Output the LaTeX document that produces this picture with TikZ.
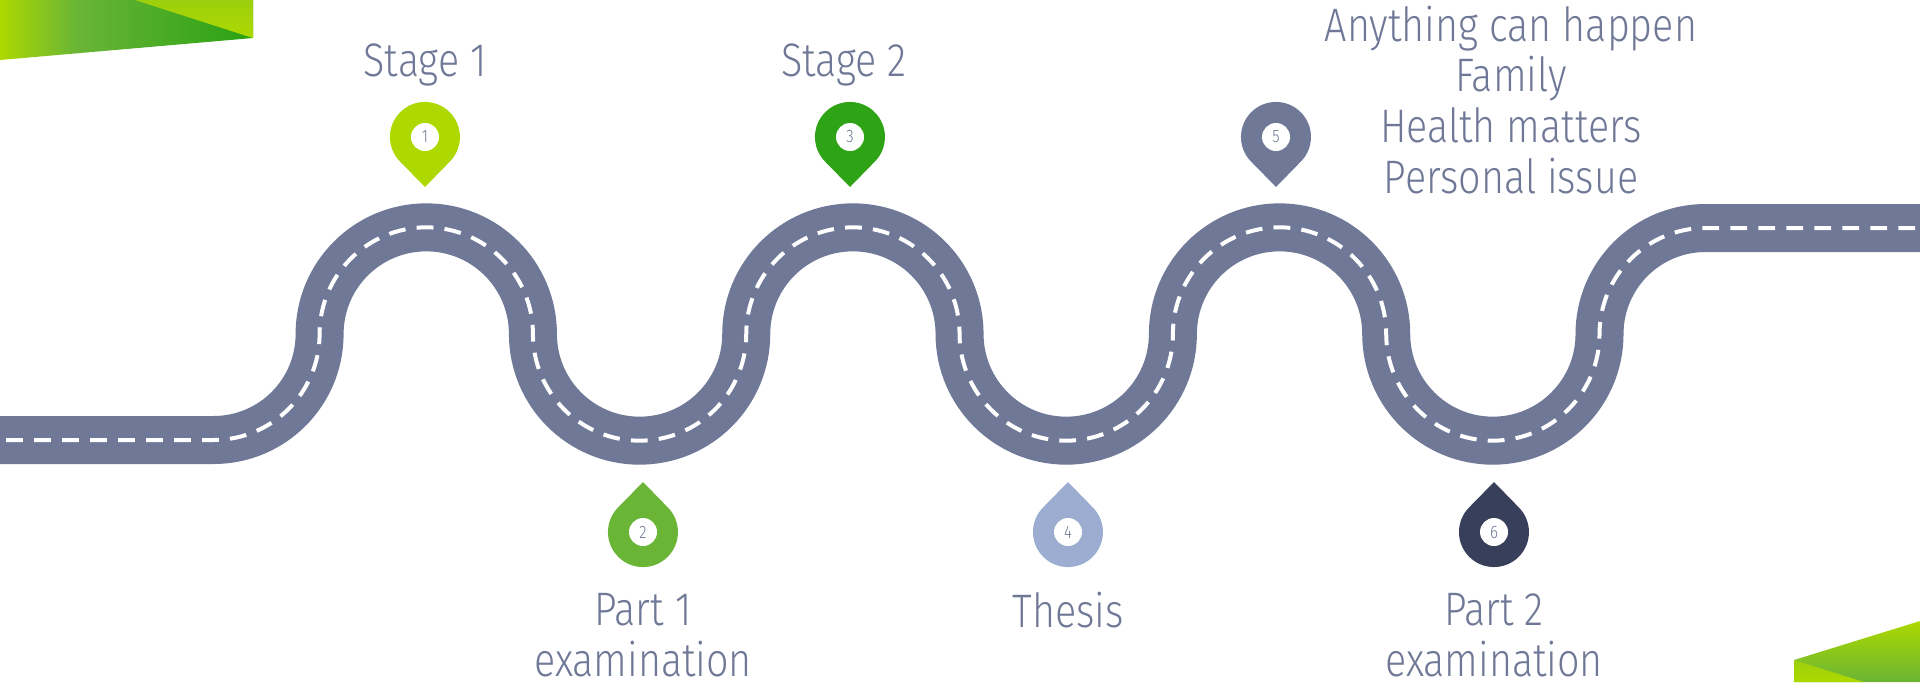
\documentclass[tikz,border=0pt]{standalone}
\usepackage{fontspec}
\setmainfont{Fira Sans Light}[FakeStretch=0.84]
\usetikzlibrary{positioning}

\definecolor{roadgrey}{RGB}{111,120,150}
\definecolor{limegreen}{RGB}{173,216,0}
\definecolor{leafgreen}{RGB}{106,181,54}
\definecolor{deepgreen}{RGB}{47,163,22}
\definecolor{paleblue}{RGB}{157,173,210}
\definecolor{darkblue}{RGB}{56,63,90}

\pgfdeclarehorizontalshading{bandleft}{100bp}{color(0bp)=(limegreen); color(25bp)=(limegreen); color(40bp)=(leafgreen); color(72bp)=(deepgreen); color(75bp)=(deepgreen); color(100bp)=(deepgreen)}
\pgfdeclareverticalshading{bandtop}{100bp}{color(0bp)=(limegreen); color(25bp)=(limegreen); color(75bp)=(limegreen!75!leafgreen); color(100bp)=(limegreen!75!leafgreen)}
\pgfdeclareverticalshading{bandright}{100bp}{color(0bp)=(leafgreen); color(25bp)=(leafgreen); color(75bp)=(limegreen); color(100bp)=(limegreen)}

\tikzset{
    road/.style={draw=roadgrey,line width=24pt},
    roadmark/.style={draw=white,line width=2pt,dash pattern=on 8.4pt off 5.6pt,dash phase=11pt},
    numdot/.style={circle,fill=white,text=roadgrey,minimum size=14pt,inner sep=0pt,font=\fontsize{9}{9}\selectfont},
    stagetext/.style={text=roadgrey,align=center,anchor=base,inner sep=0pt,font=\fontsize{23.5}{25.3}\selectfont},
    pin down/.pic={\fill[pic actions] (0,50) -- (24.7,24.7) arc[start angle=-45,end angle=225,radius=17.5pt] -- cycle;},
    pin up/.pic={\fill[pic actions] (0,-50) -- (24.7,-24.7) arc[start angle=45,end angle=-225,radius=17.5pt] -- cycle;}
}

\begin{document}
\begin{tikzpicture}[x=0.5pt,y=-0.5pt]
        \useasboundingbox (0,0) rectangle (1920,682);
        % corners
        \shade[shading=bandleft] (0,0) -- (253,0) -- (253,38) -- (0,60) -- cycle;
        \shade[shading=bandtop] (135,0) -- (253,0) -- (253,38) -- cycle;
        \shade[shading=bandright] (1794,660) -- (1920,621) -- (1920,682) -- (1794,682) -- cycle;
        \shade[shading=bandtop] (1794,660) -- (1864,682) -- (1794,682) -- cycle;
        % road
        \def\roadpath{(0,440) -- (213.6,440) arc[start angle=-90,end angle=0,radius=53pt]
            arc[start angle=180,end angle=0,radius=53.33pt]
            arc[start angle=180,end angle=360,radius=53.33pt]
            arc[start angle=180,end angle=0,radius=53.33pt]
            arc[start angle=180,end angle=360,radius=53.33pt]
            arc[start angle=180,end angle=0,radius=53.33pt]
            arc[start angle=180,end angle=360,radius=53.33pt]
            arc[start angle=180,end angle=90,radius=53pt] -- (1920,228)}
        \path[road] \roadpath;
        \path[roadmark] \roadpath;
        % pins
        \pic[fill=limegreen] at (425,137) {pin down};
        \pic[fill=leafgreen] at (643,532) {pin up};
        \pic[fill=deepgreen] at (850,137) {pin down};
        \pic[fill=paleblue] at (1068,532) {pin up};
        \pic[fill=roadgrey] at (1276,137) {pin down};
        \pic[fill=darkblue] at (1494,532) {pin up};
        \node[numdot] (n_1) at (425,137) {1};
        \node[numdot] (n_2) at (643,532) {2};
        \node[numdot] (n_3) at (850,137) {3};
        \node[numdot] (n_4) at (1068,532) {4};
        \node[numdot] (n_5) at (1276,137) {5};
        \node[numdot] (n_6) at (1494,532) {6};
        % labels
        \node[stagetext] (s_1) at (425,76) {Stage 1};
        \node[stagetext] (s_2) at (844,76) {Stage 2};
        \node[stagetext] (e_1) at (643,676) {Part 1\\examination};
        \node[stagetext] (t_1) at (1068,627) {Thesis};
        \node[stagetext] (e_2) at (1494,676) {Part 2\\examination};
        \node[stagetext] (a_1) at (1511,193) {Anything can happen\\Family\\Health matters\\Personal issue};
\end{tikzpicture}
\end{document}
